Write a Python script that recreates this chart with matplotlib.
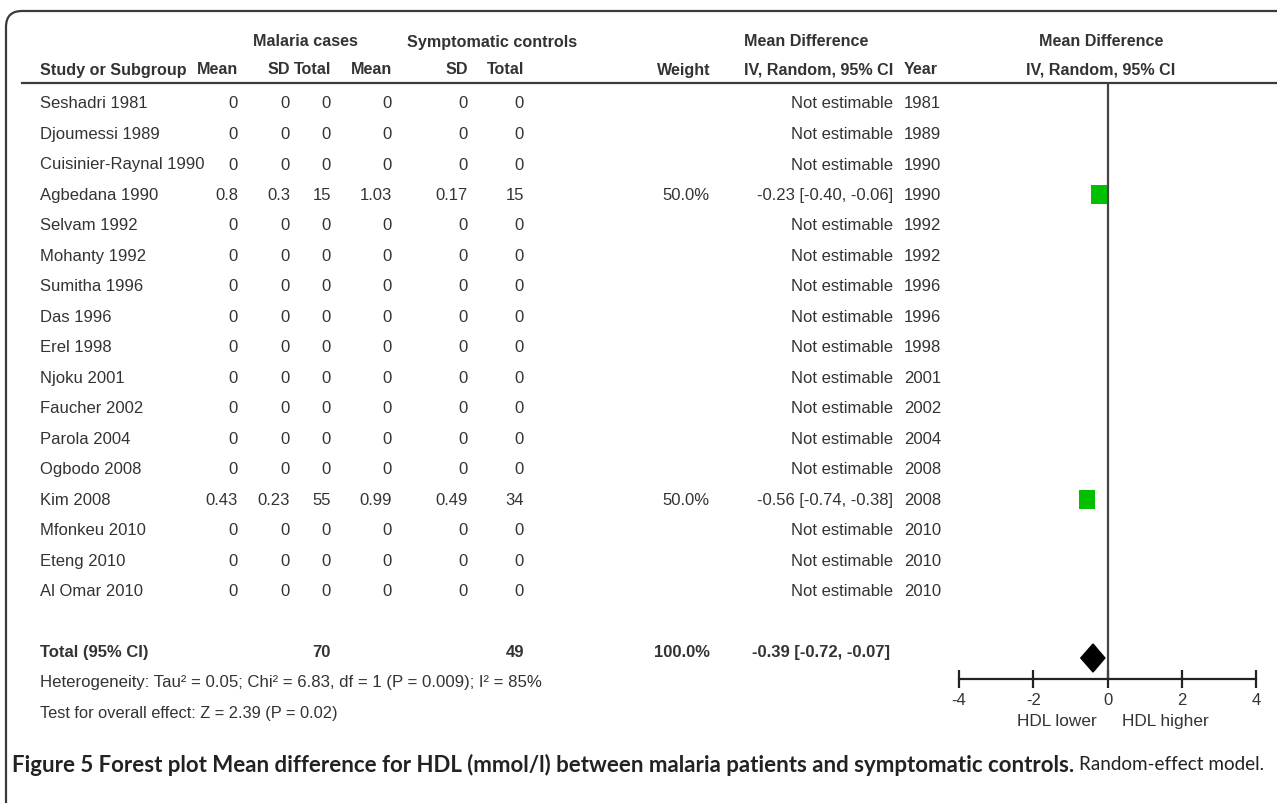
import matplotlib
matplotlib.use("Agg")
import matplotlib.pyplot as plt
from matplotlib.patches import Rectangle, Polygon, PathPatch
from matplotlib.path import Path

# ---- data ----
studies = ["Seshadri 1981", "Djoumessi 1989", "Cuisinier-Raynal 1990", "Agbedana 1990",
           "Selvam 1992", "Mohanty 1992", "Sumitha 1996", "Das 1996", "Erel 1998",
           "Njoku 2001", "Faucher 2002", "Parola 2004", "Ogbodo 2008", "Kim 2008",
           "Mfonkeu 2010", "Eteng 2010", "Al Omar 2010"]
years = [1981, 1989, 1990, 1990, 1992, 1992, 1996, 1996, 1998, 2001, 2002, 2004,
         2008, 2008, 2010, 2010, 2010]
case_mean = [0, 0, 0, 0.8, 0, 0, 0, 0, 0, 0, 0, 0, 0, 0.43, 0, 0, 0]
case_sd = [0, 0, 0, 0.3, 0, 0, 0, 0, 0, 0, 0, 0, 0, 0.23, 0, 0, 0]
case_n = [0, 0, 0, 15, 0, 0, 0, 0, 0, 0, 0, 0, 0, 55, 0, 0, 0]
ctrl_mean = [0, 0, 0, 1.03, 0, 0, 0, 0, 0, 0, 0, 0, 0, 0.99, 0, 0, 0]
ctrl_sd = [0, 0, 0, 0.17, 0, 0, 0, 0, 0, 0, 0, 0, 0, 0.49, 0, 0, 0]
ctrl_n = [0, 0, 0, 15, 0, 0, 0, 0, 0, 0, 0, 0, 0, 34, 0, 0, 0]
weights = [None, None, None, 50.0, None, None, None, None, None, None, None, None,
           None, 50.0, None, None, None]
md = [None, None, None, -0.23, None, None, None, None, None, None, None, None,
      None, -0.56, None, None, None]
ci_lo = [None, None, None, -0.40, None, None, None, None, None, None, None, None,
         None, -0.74, None, None, None]
ci_hi = [None, None, None, -0.06, None, None, None, None, None, None, None, None,
         None, -0.38, None, None, None]

total_cases = 70
total_ctrl = 49
total_weight = 100.0
total_md, total_lo, total_hi = -0.39, -0.72, -0.07
heterogeneity = "Heterogeneity: Tau² = 0.05; Chi² = 6.83, df = 1 (P = 0.009); I² = 85%"
overall = "Test for overall effect: Z = 2.39 (P = 0.02)"
x_ticks = [-4, -2, 0, 2, 4]

W, H = 1277, 804
TXT = "#333333"
FONT = "Liberation Sans"
FS = 12
HFS = 11.6  # header size

plt.rcParams["font.family"] = [FONT, "DejaVu Sans"]

fig = plt.figure(figsize=(W / 100, H / 100), dpi=100)
ax = fig.add_axes([0, 0, 1, 1])
ax.set_xlim(0, W)
ax.set_ylim(H, 0)
ax.axis("off")

# layout (pixels)
row0, dy = 104, 30.5
hdr1, hdr2, hdr_line = 42, 70, 84
total_y = row0 + (len(studies) + 1) * dy
axis_y = 680
fx0, fx1 = 959, 1256


def fmt(v):
    return f"{v:g}"


def put(x, y, s, ha="right", bold=False, size=FS, **kw):
    ax.text(x, y, s, ha=ha, va="center", fontsize=size, color=TXT,
            fontweight="bold" if bold else "normal", **kw)


# frame with rounded top-left corner
r = 16
verts = [(6, H + 2), (6, 12 + r), (6, 12), (6 + r, 12), (W + 2, 12)]
codes = [Path.MOVETO, Path.LINETO, Path.CURVE3, Path.CURVE3, Path.LINETO]
ax.add_patch(PathPatch(Path(verts, codes), fill=False, lw=1.6, ec="#3a3a3a"))

# headers
put(305, hdr1, "Malaria cases", ha="center", bold=True, size=HFS)
put(492, hdr1, "Symptomatic controls", ha="center", bold=True, size=HFS)
put(806, hdr1, "Mean Difference", ha="center", bold=True, size=HFS)
put(1101, hdr1, "Mean Difference", ha="center", bold=True, size=HFS)
put(40, hdr2, "Study or Subgroup", ha="left", bold=True, size=HFS)
put(238, hdr2, "Mean", bold=True, size=HFS)
put(290, hdr2, "SD", bold=True, size=HFS)
put(331, hdr2, "Total", bold=True, size=HFS)
put(392, hdr2, "Mean", bold=True, size=HFS)
put(468, hdr2, "SD", bold=True, size=HFS)
put(524, hdr2, "Total", bold=True, size=HFS)
put(711, hdr2, "Weight", bold=True, size=HFS)
put(893, hdr2, "IV, Random, 95% CI", bold=True, size=HFS)
put(904, hdr2, "Year", ha="left", bold=True, size=HFS)
put(1101, hdr2, "IV, Random, 95% CI", ha="center", bold=True, size=HFS)
ax.plot([22, W], [hdr_line, hdr_line], color="#3a3a3a", lw=1.6)

# study rows
for i, name in enumerate(studies):
    y = row0 + i * dy
    put(40, y, name, ha="left")
    put(238, y, fmt(case_mean[i]))
    put(290, y, fmt(case_sd[i]))
    put(331, y, fmt(case_n[i]))
    put(392, y, fmt(ctrl_mean[i]))
    put(468, y, fmt(ctrl_sd[i]))
    put(524, y, fmt(ctrl_n[i]))
    if weights[i] is None:
        put(893, y, "Not estimable")
    else:
        put(710, y, f"{weights[i]:.1f}%")
        put(893, y, f"{md[i]:.2f} [{ci_lo[i]:.2f}, {ci_hi[i]:.2f}]")
    put(904, y, str(years[i]), ha="left")

# totals
put(40, total_y, "Total (95% CI)", ha="left", bold=True)
put(331, total_y, str(total_cases), bold=True)
put(524, total_y, str(total_ctrl), bold=True)
put(710, total_y, f"{total_weight:.1f}%", bold=True)
put(890, total_y, f"{total_md:.2f} [{total_lo:.2f}, {total_hi:.2f}]", bold=True)
put(40, 683, heterogeneity, ha="left", size=12.1)
put(40, 714, overall, ha="left", size=11.8)

# ---- forest panel ----
fa = fig.add_axes([fx0 / W, 0, (fx1 - fx0) / W, 1])
fa.set_xlim(-4, 4)
fa.set_ylim(H, 0)
fa.patch.set_visible(False)
for s in ["top", "left", "right"]:
    fa.spines[s].set_visible(False)
fa.spines["bottom"].set_position(("data", axis_y))
fa.spines["bottom"].set_linewidth(1.6)
fa.spines["bottom"].set_color("#222222")
fa.set_yticks([])
fa.set_xticks(x_ticks)
fa.set_xticklabels([str(t) for t in x_ticks])
fa.tick_params(axis="x", direction="inout", length=13, width=1.6, color="#222222",
               labelsize=FS, labelcolor=TXT, pad=3)

fa.vlines(0, hdr_line, axis_y, color="#444444", lw=1.6)

px_per_unit = (fx1 - fx0) / 8.0
box_w = 16 / px_per_unit
box_h = 19
for i in range(len(studies)):
    if md[i] is None:
        continue
    y = row0 + i * dy
    fa.hlines(y, ci_lo[i], ci_hi[i], color="black", lw=1.2)
    w = box_w * weights[i] / 50.0
    fa.add_patch(Rectangle((md[i] - w / 2, y - box_h / 2), w, box_h,
                           fc="#00c000", ec="none", zorder=3))

dh = 14
dc = total_y + 6
fa.add_patch(Polygon([(total_lo, dc), (total_md, dc - dh),
                      (total_hi, dc), (total_md, dc + dh)],
                     closed=True, fc="black", ec="black", zorder=3))

fa.text(-0.3, 722, "HDL lower", ha="right", va="center", fontsize=12.4, color=TXT)
fa.text(0.4, 722, "HDL higher", ha="left", va="center", fontsize=12.4, color=TXT)

# caption
cap_font = ["Lato", "DejaVu Sans"]
t1 = ax.text(12, 765, "Figure 5 Forest plot Mean difference for HDL (mmol/l) between malaria "
             "patients and symptomatic controls.", ha="left", va="center", fontsize=16,
             fontweight="bold", color="#222222", family=cap_font)
fig.canvas.draw()
bb = t1.get_window_extent()
ax.text(bb.x1 + 5, 765, "Random-effect model.", ha="left", va="center", fontsize=13.6,
        color="#222222", family=cap_font)

fig.savefig("out.png", dpi=100)
